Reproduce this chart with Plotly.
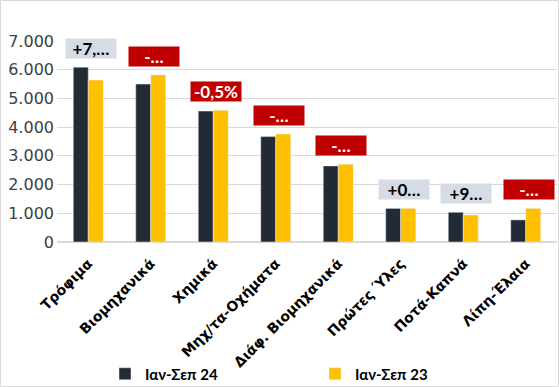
import plotly.graph_objects as go

categories = ["Τρόφιμα", "Βιομηχανικά", "Χημικά", "Μηχ/τα-Οχήματα",
              "Διάφ. Βιομηχανικά", "Πρώτες Ύλες", "Ποτά-Καπνά", "Λίπη-Έλαια"]
series_24 = [6090, 5500, 4560, 3670, 2650, 1170, 1035, 770]
series_23 = [5640, 5820, 4590, 3760, 2710, 1170, 940, 1170]
change_labels = ["+7,…", "-…", "-0,5%", "-…", "-…", "+0…", "+9…", "-…"]
change_positive = [True, False, False, False, False, True, True, False]
y_ticks = [0, 1000, 2000, 3000, 4000, 5000, 6000, 7000]

W, H = 559, 387
ML, MR, MT, MB = 57, 2, 41, 145
PW, PH = W - ML - MR, H - MT - MB

FONT = "Lato"
fig = go.Figure()
fig.add_bar(x=categories, y=series_24, name="<b>Ιαν-Σεπ 24</b>", marker_color="#222A35")
fig.add_bar(x=categories, y=series_23, name="<b>Ιαν-Σεπ 23</b>", marker_color="#FFC000")

for cat, a, b, txt, pos in zip(categories, series_24, series_23, change_labels, change_positive):
    fig.add_annotation(
        x=cat, y=max(a, b), xref="x", yref="y", text="<b>" + txt + "</b>",
        showarrow=False, yanchor="bottom", yshift=8, xshift=3,
        width=50, height=19, borderpad=0,
        bgcolor="#D6DCE5" if pos else "#C00000",
        font=dict(family=FONT, size=17, color="#000000" if pos else "#FFFFFF"),
    )

# light chart border
fig.add_shape(type="rect", xref="paper", yref="paper",
              x0=(0.5 - ML) / PW, x1=1 + (MR - 0.5) / PW,
              y0=-(MB - 0.5) / PH, y1=1 + (MT - 0.5) / PH,
              line=dict(color="#D9D9D9", width=1))

fig.update_layout(
    width=W, height=H,
    margin=dict(l=ML, r=MR, t=MT, b=MB, autoexpand=False),
    paper_bgcolor="white", plot_bgcolor="white",
    barmode="group", bargap=0.52, bargroupgap=0,
    separators=",.",
    showlegend=True,
    legend=dict(orientation="h", x=(105 - ML) / PW, xanchor="left",
                y=-(374 - MT - PH) / PH, yanchor="middle",
                bgcolor="rgba(0,0,0,0)",
                font=dict(family=FONT, size=15, color="#000000"),
                itemwidth=30, traceorder="normal",
                entrywidth=165, entrywidthmode="pixels"),
    font=dict(family=FONT),
)
fig.update_yaxes(range=[0, 7000], tickvals=y_ticks, tickformat=",d",
                 showgrid=True, gridcolor="#D9D9D9", gridwidth=1,
                 zeroline=True, zerolinecolor="#D9D9D9", automargin=False,
                 tickfont=dict(family="DejaVu Sans", size=16, color="#404040"),
                 ticks="", showline=False, ticklabelstandoff=2)
fig.update_xaxes(tickangle=-45, automargin=False,
                 tickfont=dict(family="DejaVu Sans", size=14, color="#000000"),
                 showline=True, linecolor="#D9D9D9", ticks="",
                 ticklabelstandoff=7,
                 tickprefix="<b>", ticksuffix="</b>")

fig.write_html("out.html", config={"displayModeBar": False},
               post_script="document.body.style.margin='0';document.body.style.overflow='hidden';")
